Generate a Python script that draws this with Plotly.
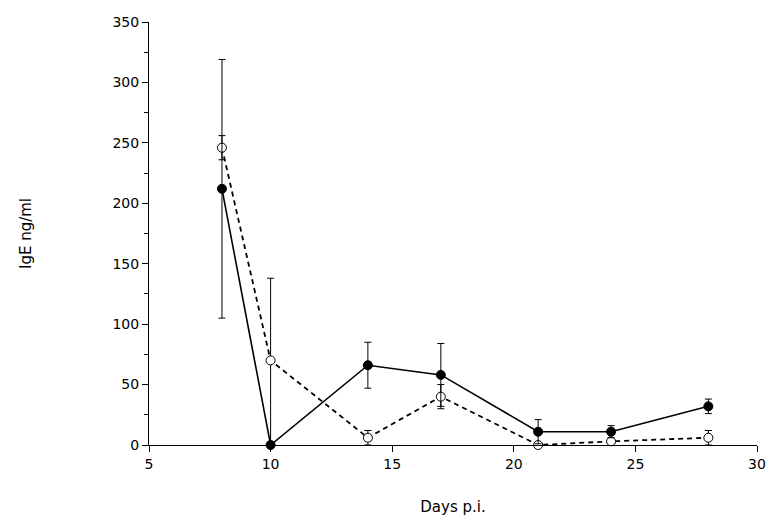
import plotly.graph_objects as go

days = [8, 10, 14, 17, 21, 24, 28]

# filled circles, solid line
filled_mean = [212, 0, 66, 58, 11, 11, 32]
filled_err = [107, 0, 19, 26, 10, 5, 6]

# open circles, dashed line
open_mean = [246, 70, 6, 40, 0, 3, 6]
open_err = [10, 68, 6, 10, 0, 2, 6]

x_ticks = [5, 10, 15, 20, 25, 30]
y_ticks = [0, 50, 100, 150, 200, 250, 300, 350]

fig = go.Figure()

fig.add_trace(go.Scatter(
    x=days, y=open_mean,
    mode='lines+markers',
    line=dict(color='black', width=1.8, dash='5px,4px'),
    marker=dict(symbol='circle', size=9, color='white',
                line=dict(color='black', width=1)),
    error_y=dict(type='data', array=open_err, visible=True,
                 color='black', thickness=1, width=3.5),
    cliponaxis=False,
    showlegend=False
))

fig.add_trace(go.Scatter(
    x=days, y=filled_mean,
    mode='lines+markers',
    line=dict(color='black', width=1.6),
    marker=dict(symbol='circle', size=9, color='black',
                line=dict(color='black', width=1)),
    error_y=dict(type='data', array=filled_err, visible=True,
                 color='black', thickness=1, width=3.5),
    cliponaxis=False,
    showlegend=False
))

font_family = 'DejaVu Sans, Verdana, sans-serif'

# page body has an 8px default margin, so margins are shifted to compensate
fig.update_layout(
    width=776, height=530,
    paper_bgcolor='white',
    plot_bgcolor='white',
    margin=dict(l=141, r=27, t=14, b=93),
    font=dict(family=font_family, size=14, color='black'),
    xaxis=dict(
        range=[5, 30],
        tickvals=x_ticks,
        showgrid=False, zeroline=False,
        showline=True, linecolor='black', linewidth=1,
        ticks='outside', ticklen=6, tickcolor='black',
        tickfont=dict(size=14),
        automargin=False,
        title=dict(text='Days p.i.', font=dict(size=15), standoff=30),
    ),
    yaxis=dict(
        range=[0, 350],
        tickvals=y_ticks,
        showgrid=False, zeroline=False,
        showline=True, linecolor='black', linewidth=1,
        ticks='outside', ticklen=6, tickcolor='black',
        tickfont=dict(size=14),
        minor=dict(dtick=25, ticks='outside', ticklen=4, tickcolor='black'),
        automargin=False,
        title=dict(text='IgE ng/ml', font=dict(size=15), standoff=77),
    ),
)

fig.write_html("out.html")
